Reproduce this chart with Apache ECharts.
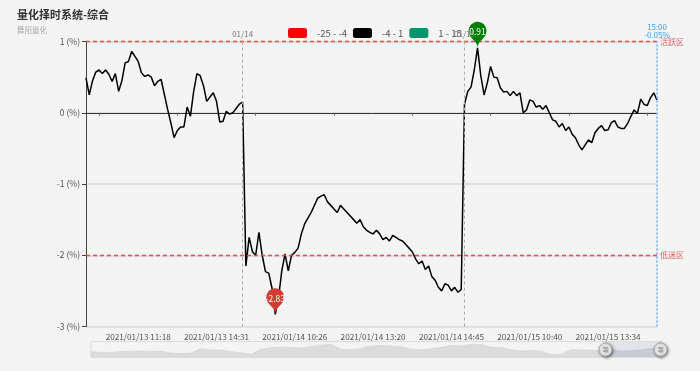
<!DOCTYPE html>
<html><head><meta charset="utf-8">
<script src="https://cdn.jsdelivr.net/npm/echarts@6/dist/echarts.min.js"></script>
<style>html,body{margin:0;padding:0;background:#f4f4f4}#c{width:700px;height:371px}</style>
</head><body><div id="c"></div>
<script>
// ---- data ----
const tickLabels = ['2021/01/13 11:18','2021/01/13 14:31','2021/01/14 10:26','2021/01/14 13:20','2021/01/14 14:45','2021/01/15 10:40','2021/01/15 13:34'];
const values = [
 0.49,0.25,0.45,0.57,0.60,0.55,0.60,0.54,0.44,0.55,
 0.30,0.45,0.70,0.72,0.86,0.79,0.72,0.56,0.51,0.53,
 0.50,0.38,0.44,0.47,0.26,0.05,-0.14,-0.35,-0.25,-0.20,
 -0.20,0.08,-0.05,0.30,0.55,0.52,0.38,0.16,0.22,0.28,
 0.16,-0.13,-0.12,0.02,-0.02,0.00,0.06,0.12,0.15,-2.15,
 -1.75,-1.95,-2.00,-1.68,-2.00,-2.23,-2.25,-2.46,-2.83,-2.60,
 -2.22,-1.98,-2.22,-2.00,-1.96,-1.90,-1.70,-1.56,-1.48,-1.40,
 -1.30,-1.20,-1.17,-1.15,-1.25,-1.30,-1.35,-1.40,-1.30,-1.35,
 -1.40,-1.45,-1.50,-1.55,-1.50,-1.60,-1.65,-1.68,-1.70,-1.65,
 -1.70,-1.78,-1.75,-1.80,-1.72,-1.75,-1.78,-1.80,-1.85,-1.90,
 -1.95,-2.05,-2.12,-2.08,-2.20,-2.15,-2.30,-2.35,-2.45,-2.50,
 -2.40,-2.42,-2.50,-2.45,-2.52,-2.48,0.12,0.30,0.36,0.60,
 0.91,0.52,0.25,0.42,0.65,0.50,0.49,0.35,0.29,0.30,
 0.24,0.30,0.24,0.28,0.00,0.04,0.18,0.16,0.08,0.10,
 0.05,0.10,0.00,-0.10,-0.12,-0.20,-0.15,-0.25,-0.20,-0.30,
 -0.35,-0.45,-0.52,-0.45,-0.38,-0.42,-0.28,-0.22,-0.18,-0.25,
 -0.24,-0.14,-0.11,-0.20,-0.22,-0.22,-0.15,-0.05,0.04,-0.01,
 0.19,0.12,0.10,0.21,0.28,0.18
];
const categories = values.map((v, i) => String(i));
const historyValues = [22,21,20,23,23,24,23,24,19,18,19,29,27,26,23,20,16,28,32,33,32,31,34,38,40,28,27,30,36,37,36,34,28,27,29,32,37,36,40,39,33,33,27,24,26,23,15,16,27,27,26,25,27,24,25,27,30,31];
const historyCats = historyValues.map((v, i) => 'h' + i);
const dayLabels = ['01/14', '01/15'];
const dayStartIndex = [48, 116];
const zoneLevels = [1, -2];
const zoneNames = ['活跃区', '低迷区'];
const lastLabel = '15:00\n-0.05%';
const pieceRanges = [[-25, -4], [-4, 1], [1, 15]];
const pieceColors = ['#ff0000', '#000000', '#00966b'];

// ---- layout constants ----
const LABEL_FIRST = 16, LABEL_STEP = 24, TICK_FIRST = 4;
const FONT = '"Microsoft YaHei","Noto Sans CJK SC",sans-serif';

const chart = echarts.init(document.getElementById('c'), null, {renderer: 'canvas'});

const zoneLines = zoneLevels.map((lv, k) => ({yAxis: lv, label: {formatter: zoneNames[k]}}));
const dayLines = dayStartIndex.map((ix, k) => ({xAxis: ix, label: {formatter: dayLabels[k]}}));
const lastLine = [{xAxis: values.length - 1, label: {formatter: lastLabel}}];

function overlaySeries(mlData, lineStyle, label, z) {
  return {
    type: 'line', data: values, xAxisIndex: 0, yAxisIndex: 0,
    showSymbol: false, symbol: 'none', silent: true,
    lineStyle: {opacity: 0}, z: z,
    markLine: {symbol: 'none', silent: true, animation: false, lineStyle: lineStyle, label: label, data: mlData}
  };
}

chart.setOption({
  backgroundColor: '#f4f4f4',
  textStyle: {fontFamily: FONT},
  animation: false,
  title: {
    text: '量化择时系统-综合', subtext: '舞阳量化', left: 12, top: 4, itemGap: 6,
    textStyle: {fontSize: 11, fontWeight: 'bold', color: '#333'},
    subtextStyle: {fontSize: 7.5, color: '#aaa'}
  },
  visualMap: {
    type: 'piecewise', orient: 'horizontal', left: 273, top: 13, seriesIndex: 0,
    itemWidth: 19, itemHeight: 10, itemGap: 6, textGap: 10,
    textStyle: {fontSize: 9.5, color: '#555'},
    pieces: pieceRanges.map((r, k) => ({gt: r[0], lte: r[1], color: pieceColors[k], label: r[0] + ' - ' + r[1]}))
  },
  grid: {left: 86, right: 43, top: 41.5, bottom: 44.5},
  xAxis: [{
    type: 'category', data: categories, boundaryGap: false, position: 'bottom',
    axisLine: {show: false, onZero: false}, axisTick: {show: false}, splitLine: {show: false},
    axisLabel: {
      interval: (i) => i >= LABEL_FIRST && (i - LABEL_FIRST) % LABEL_STEP === 0,
      formatter: (v, i) => tickLabels[(i - LABEL_FIRST) / LABEL_STEP] || '',
      color: '#555', fontSize: 8.2, margin: 6
    }
  }, {
    type: 'category', data: categories, boundaryGap: false, position: 'bottom',
    axisLine: {show: true, onZero: true, lineStyle: {color: '#333', width: 1}},
    axisTick: {show: true, length: 3, interval: (i) => i >= TICK_FIRST && (i - TICK_FIRST) % LABEL_STEP === 0, lineStyle: {color: '#666'}},
    axisLabel: {show: false}, splitLine: {show: false}
  }, {
    type: 'category', data: historyCats, show: false, boundaryGap: false
  }],
  yAxis: [{
    type: 'value', min: -3, max: 1, interval: 1,
    axisLine: {show: true, lineStyle: {color: '#444'}},
    axisTick: {show: true, length: 4, lineStyle: {color: '#444'}},
    axisLabel: {formatter: '{value} (%)', color: '#555', fontSize: 8.5, margin: 6},
    splitLine: {show: true, lineStyle: {color: '#e0e0e0', width: 2}}
  }, {
    type: 'value', show: false, scale: true
  }],
  dataZoom: [{
    type: 'slider', xAxisIndex: 2, start: 90, end: 100,
    left: 88, right: 41, bottom: 13, height: 17,
    backgroundColor: 'rgba(0,0,0,0)', borderColor: '#ddd',
    fillerColor: 'rgba(170,180,200,0.25)',
    dataBackground: {lineStyle: {color: '#cfcfcf', width: 0.5}, areaStyle: {color: '#dcdcdc', opacity: 1}},
    selectedDataBackground: {lineStyle: {color: '#c4c4c4', width: 0.5}, areaStyle: {color: '#d2d4d8', opacity: 1}},
    handleIcon: 'M10.7,11.9v-1.3H9.3v1.3c-4.9,0.3-8.8,4.4-8.8,9.4c0,5,3.9,9.1,8.8,9.4v1.3h1.3v-1.3c4.9-0.3,8.8-4.4,8.8-9.4C19.5,16.3,15.6,12.2,10.7,11.9z M13.3,24.4H6.7V23h6.6V24.4z M13.3,19.6H6.7v-1.4h6.6V19.6z',
    handleSize: '85%',
    handleStyle: {color: '#fff', borderColor: '#aaa', shadowBlur: 3, shadowColor: 'rgba(0,0,0,0.5)', shadowOffsetX: 1, shadowOffsetY: 1},
    moveHandleSize: 0, showDetail: false, brushSelect: false
  }],
  series: [{
    type: 'line', data: values, xAxisIndex: 0, yAxisIndex: 0,
    showSymbol: false, symbol: 'none', z: 4,
    lineStyle: {width: 1.5, color: '#000'},
    markPoint: {
      symbol: 'pin', symbolSize: 30,
      label: {color: '#fff', fontSize: 8.5, overflow: 'none'},
      data: [
        {type: 'max', itemStyle: {color: '#008000'}},
        {type: 'min', itemStyle: {color: '#d43c33'}}
      ]
    }
  }, {
    type: 'line', data: historyValues, xAxisIndex: 2, yAxisIndex: 1,
    showSymbol: false, symbol: 'none', silent: true,
    lineStyle: {opacity: 0}
  },
  overlaySeries(zoneLines, {color: '#e8403c', type: [4, 3], width: 1.4, opacity: 0.9},
    {position: 'end', color: '#d9534f', fontSize: 8, distance: 3}, 3),
  overlaySeries(dayLines, {color: '#a8a8a8', type: [3, 3], width: 1},
    {position: 'end', color: '#777', fontSize: 8, distance: 4}, 3),
  overlaySeries(lastLine, {color: '#66afff', type: [2, 2], width: 1.5},
    {position: 'end', color: '#3d9bf5', fontSize: 8, lineHeight: 8, distance: 3}, 3)
  ]
});
</script></body></html>
